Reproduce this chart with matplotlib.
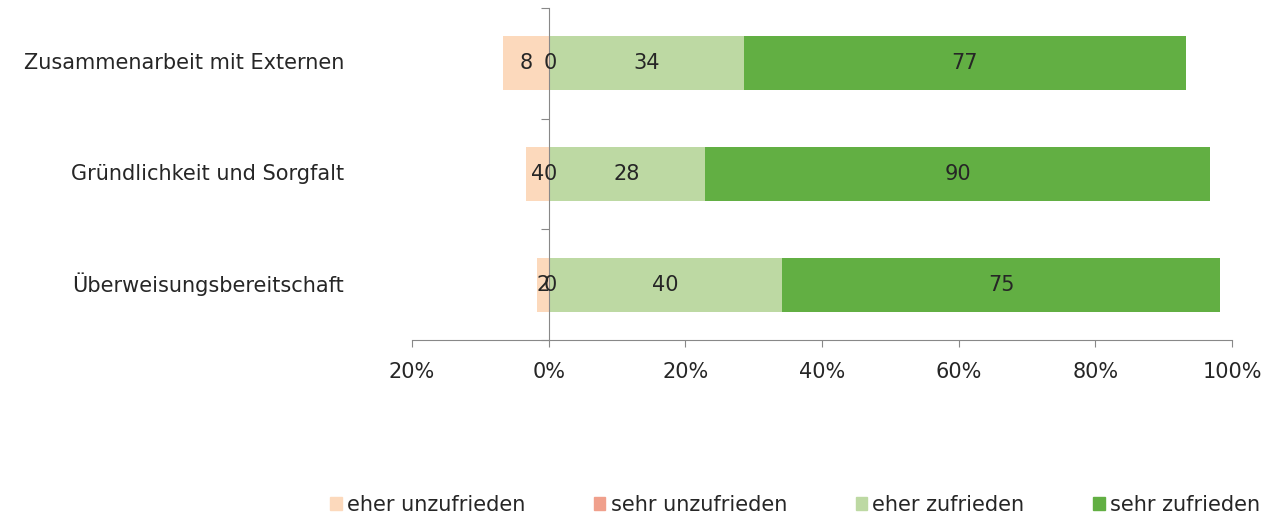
import matplotlib
matplotlib.use("Agg")
import matplotlib.pyplot as plt
import matplotlib.transforms as mtransforms
from matplotlib.patches import Patch
import numpy as np

plt.rcParams['font.family'] = ['DejaVu Sans']

categories = ["Überweisungsbereitschaft", "Gründlichkeit und Sorgfalt", "Zusammenarbeit mit Externen"]
eher_unzufrieden = [2, 4, 8]
sehr_unzufrieden = [0, 0, 0]
eher_zufrieden = [40, 28, 34]
sehr_zufrieden = [75, 90, 77]
xticks = [-20, 0, 20, 40, 60, 80, 100]
xticklabels = ["20%", "0%", "20%", "40%", "60%", "80%", "100%"]
legend_labels = ["eher unzufrieden", "sehr unzufrieden", "eher zufrieden", "sehr zufrieden"]

col_eu = "#FCD9BC"
col_su = "#F0A08C"
col_ez = "#BDD9A3"
col_sz = "#62AF43"
axis_col = "#888888"
txt_col = "#262626"

fig = plt.figure(figsize=(12.85, 5.17), dpi=100)
ax = fig.add_axes([412/1285, 1-340/517, (1232-412)/1285, (340-8)/517])

eu = np.array(eher_unzufrieden, float)
su = np.array(sehr_unzufrieden, float)
ez = np.array(eher_zufrieden, float)
sz = np.array(sehr_zufrieden, float)
total = eu + su + ez + sz
p_eu = eu / total * 100
p_su = su / total * 100
p_ez = ez / total * 100
p_sz = sz / total * 100

y = np.arange(len(categories))
h = 0.49
fs = 15

ax.barh(y, -p_su, height=h, color=col_su, left=0)
ax.barh(y, -p_eu, height=h, color=col_eu, left=-p_su)
ax.barh(y, p_ez, height=h, color=col_ez, left=0)
ax.barh(y, p_sz, height=h, color=col_sz, left=p_ez)

for i in range(len(categories)):
    ax.text(-p_su[i] - p_eu[i] / 2, y[i], f"{int(eu[i])}", ha='center', va='center', fontsize=fs, color=txt_col)
    ax.text(-p_su[i] / 2 + 0.2, y[i], f"{int(su[i])}", ha='center', va='center', fontsize=fs, color=txt_col)
    ax.text(p_ez[i] / 2, y[i], f"{int(ez[i])}", ha='center', va='center', fontsize=fs, color=txt_col)
    ax.text(p_ez[i] + p_sz[i] / 2, y[i], f"{int(sz[i])}", ha='center', va='center', fontsize=fs, color=txt_col)

ax.set_xlim(-20, 100)
ax.set_ylim(-0.5, len(categories) - 0.5)
ax.set_xticks(xticks)
ax.set_xticklabels(xticklabels, fontsize=fs, color=txt_col)
ax.set_yticks(np.arange(len(categories) + 1) - 0.5)
ax.set_yticklabels([])
ax.tick_params(axis='x', direction='out', length=5, color=axis_col, pad=11)
ax.tick_params(axis='y', direction='out', length=6, color=axis_col)

for s in ['top', 'right']:
    ax.spines[s].set_visible(False)
ax.spines['left'].set_position(('data', 0))
ax.spines['left'].set_color(axis_col)
ax.spines['bottom'].set_color(axis_col)

trans = mtransforms.blended_transform_factory(fig.transFigure, ax.transData)
for i, c in enumerate(categories):
    fig.text(344/1285, y[i], c, transform=trans, ha='right', va='center', fontsize=fs, color=txt_col)

handles = [Patch(color=col_eu), Patch(color=col_su), Patch(color=col_ez), Patch(color=col_sz)]
fig.legend(handles, legend_labels, ncol=4, loc='center right', bbox_to_anchor=(1260/1285, 1-505/517),
           frameon=False, fontsize=fs, handlelength=0.55, handleheight=0.55, handletextpad=0.25,
           columnspacing=3.3, borderaxespad=0, borderpad=0, labelcolor=txt_col)

fig.savefig("out.png", dpi=100)
